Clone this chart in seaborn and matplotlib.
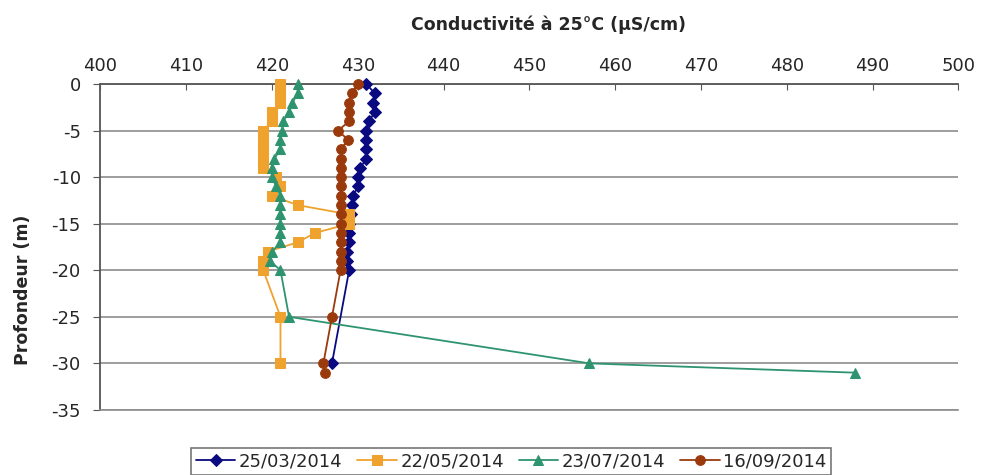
import pandas as pd
import matplotlib
matplotlib.use("Agg")
import matplotlib.pyplot as plt
import seaborn as sns

# depth levels (m)
depth_0_20 = [0, -1, -2, -3, -4, -5, -6, -7, -8, -9, -10,
              -11, -12, -13, -14, -15, -16, -17, -18, -19, -20]

depth_mar = depth_0_20 + [-30]
cond_mar = [431, 432, 431.8, 432, 431.3, 431, 431, 431, 431, 430.3, 430,
            430, 429.5, 429.3, 429.2, 429, 429, 429, 428.8, 428.8, 429, 427]

depth_may = depth_0_20 + [-25, -30]
cond_may = [421, 421, 421, 420, 420, 419, 419, 419, 419, 419, 420.5,
            421, 420, 423, 429, 429, 425, 423, 419.5, 419, 419, 421, 421]

depth_jul = depth_0_20 + [-25, -30, -31]
cond_jul = [423, 423, 422.4, 422, 421.3, 421.2, 421, 421, 420.3, 420, 420,
            420.5, 421, 421, 421, 421, 421, 421, 420, 419.8, 421, 422, 457, 488]

depth_sep = depth_0_20 + [-25, -30, -31]
cond_sep = [430, 429.3, 429, 429, 429, 427.7, 428.9, 428, 428, 428, 428,
            428, 428, 428, 428, 428, 428, 428, 428, 428, 428, 427, 426, 426.2]

dates = ["25/03/2014", "22/05/2014", "23/07/2014", "16/09/2014"]
colors = ["#0a0a80", "#f0a22e", "#2e9470", "#9a3a0c"]
markers = ["D", "s", "^", "o"]

series = [(depth_mar, cond_mar), (depth_may, cond_may),
          (depth_jul, cond_jul), (depth_sep, cond_sep)]

sns.set_style("white")
plt.rcParams["font.family"] = ["DejaVu Sans"]
plt.rcParams["axes.unicode_minus"] = False

fig = plt.figure(figsize=(9.83, 4.75), dpi=100)
ax = fig.add_axes([0.102, 0.137, 0.873, 0.686])

for (d, c), lab, col, mk in zip(series, dates, colors, markers):
    df = pd.DataFrame({"cond": c, "depth": d})
    sns.lineplot(data=df, x="cond", y="depth", sort=False, estimator=None,
                 color=col, marker=mk, markersize=7 if mk != "D" else 6,
                 markeredgecolor=col, linewidth=1.3, ax=ax, label=lab,
                 legend=False, zorder=4, clip_on=False)

ax.set_xlim(400, 500)
ax.set_ylim(-35, 0)
ax.set_xticks(range(400, 501, 10))
ax.set_yticks(range(-35, 1, 5))
ax.xaxis.tick_top()
ax.xaxis.set_label_position("top")
ax.set_xlabel("Conductivité à 25°C (µS/cm)", fontsize=12.5, fontweight="bold")
ax.xaxis.set_label_coords(0.522, 1.181)
ax.xaxis.label.set_verticalalignment("center")
ax.set_ylabel("Profondeur (m)", fontsize=12.5, fontweight="bold")
ax.yaxis.set_label_coords(-0.080, 0.368)
ax.tick_params(axis="x", direction="in", length=4, labelsize=13, pad=6.5,
               color="#555555")
ax.tick_params(axis="y", direction="out", length=5, labelsize=13, pad=9,
               color="#555555", left=True)
ax.grid(axis="y", color="#8c8c8c", linewidth=1.2)
ax.grid(axis="x", visible=False)
ax.set_axisbelow(True)
for s in ["top", "left"]:
    ax.spines[s].set_color("#555555")
    ax.spines[s].set_linewidth(1.3)
ax.spines["right"].set_visible(False)
ax.spines["bottom"].set_color("#8c8c8c")
ax.spines["bottom"].set_linewidth(1.2)

h, l = ax.get_legend_handles_labels()
leg = fig.legend(h, l, loc="center", bbox_to_anchor=(0.52, 0.029), ncol=4,
                 frameon=True, fancybox=False, fontsize=13, handlelength=2.2,
                 handletextpad=0.2, columnspacing=0.8, borderpad=0.25,
                 edgecolor="#555555")
leg.get_frame().set_linewidth(1.2)

fig.savefig("out.png", dpi=100)
